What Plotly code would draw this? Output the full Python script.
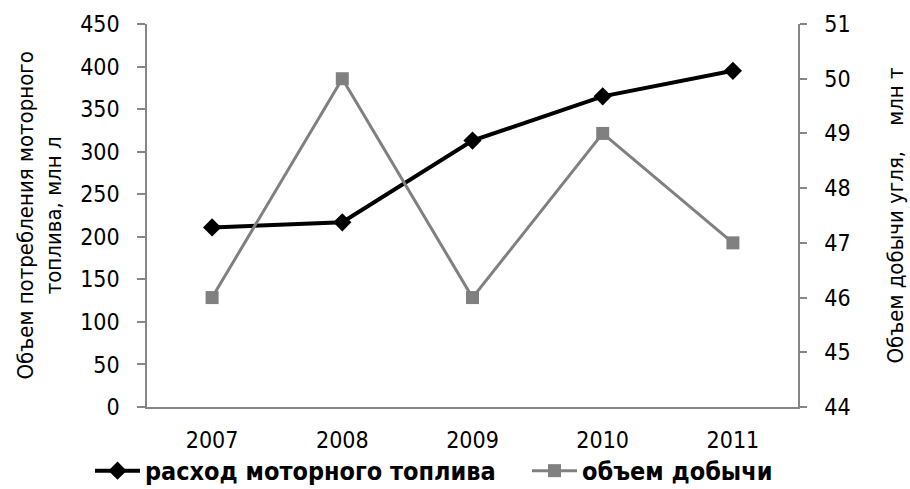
import plotly.graph_objects as go

years = ["2007", "2008", "2009", "2010", "2011"]
fuel = [211, 217, 313, 365, 395]
coal = [46, 50, 46, 49, 47]

FONT = "DejaVu Sans Condensed"
AX = "#868686"

fig = go.Figure()
fig.add_trace(go.Scatter(
    x=years, y=fuel, name="расход моторного топлива", mode="lines+markers",
    line=dict(color="#000000", width=4),
    marker=dict(symbol="diamond", size=14, color="#000000"),
    yaxis="y", legend="legend"))
fig.add_trace(go.Scatter(
    x=years, y=coal, name="объем добычи", mode="lines+markers",
    line=dict(color="#808080", width=3),
    marker=dict(symbol="square", size=13, color="#808080"),
    yaxis="y2", legend="legend2"))

leg_common = dict(orientation="h", xref="container", yref="container",
                  y=0.037, yanchor="middle", xanchor="left",
                  font=dict(family=FONT, size=25, color="#000000", weight="bold"),
                  itemwidth=45, bgcolor="rgba(0,0,0,0)")

fig.update_layout(
    width=910, height=489,
    margin=dict(l=147, r=112, t=24, b=82, autoexpand=False),
    paper_bgcolor="white", plot_bgcolor="white",
    font=dict(family=FONT, size=23, color="#000000"),
    showlegend=True,
    legend=dict(x=90 / 910, **leg_common),
    legend2=dict(x=527 / 910, **leg_common),
    xaxis=dict(type="category", range=[-0.5, 4.5], showgrid=False,
               showline=True, linecolor=AX, linewidth=1.5,
               ticks="", tickfont=dict(size=23), zeroline=False,
               ticklabelstandoff=12),
    yaxis=dict(range=[0, 450], dtick=50, showgrid=False, zeroline=False,
               showline=True, linecolor=AX, linewidth=1.5,
               ticks="outside", ticklen=8, tickcolor=AX, tickwidth=1.5,
               tickfont=dict(size=23), ticklabelstandoff=13),
    yaxis2=dict(range=[44, 51], dtick=1, overlaying="y", side="right",
                showgrid=False, zeroline=False, showline=True,
                linecolor=AX, linewidth=1.5, ticks="outside",
                ticklen=7, tickcolor=AX, tickwidth=1.5,
                tickfont=dict(size=23), ticklabelstandoff=13),
    annotations=[
        dict(text="Объем потребления моторного<br>топлива, млн л",
             xref="paper", yref="paper", x=(39 - 147) / 651, y=0.5,
             xanchor="center", yanchor="middle", textangle=-90,
             showarrow=False, font=dict(family=FONT, size=22, color="#000000")),
        dict(text="Объем добычи угля,    млн т",
             xref="paper", yref="paper", x=(895 - 147) / 651, y=0.5,
             xanchor="center", yanchor="middle", textangle=-90,
             showarrow=False, font=dict(family=FONT, size=22, color="#000000")),
    ],
)

fig.write_html("out.html")
